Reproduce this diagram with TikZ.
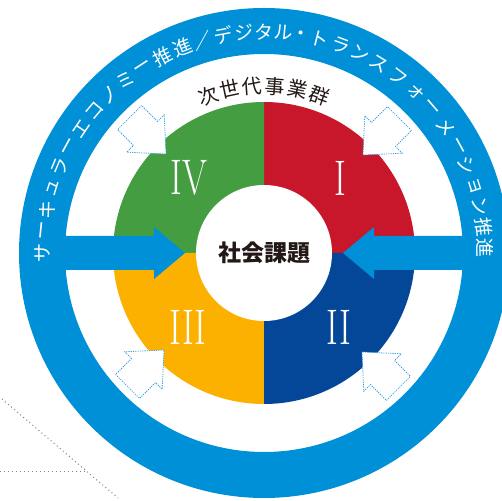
\documentclass[tikz,border=0pt]{standalone}
\usepackage{fontspec}
\usepackage{graphicx}
\newfontfamily\jp{Noto Sans CJK JP}
\usetikzlibrary{calc}
\definecolor{ringblue}{RGB}{0,144,215}
\definecolor{cRed}{RGB}{200,22,42}
\definecolor{cGreen}{RGB}{69,157,66}
\definecolor{cYellow}{RGB}{252,176,0}
\definecolor{cNavy}{RGB}{4,71,152}
\definecolor{dotblue}{RGB}{60,160,220}
\definecolor{decogray}{RGB}{120,132,150}
\definecolor{inkblack}{RGB}{35,24,21}
\tikzset{
  decoline/.style={decogray, line width=1pt, dash pattern=on 1pt off 3pt},
  harrow/.style={fill=white, draw=dotblue, line width=0.8pt, dash pattern=on 1.2pt off 1.1pt},
  hollowarrow/.pic={\draw[harrow] (0,0) -- (-29,26.5) -- (-29,17) -- (-51.5,17) -- (-51.5,-17) -- (-29,-17) -- (-29,-26.5) -- cycle;},
  ringtxt/.style={text=white, inner sep=-3pt, font=\jp\fontsize{19}{19}\selectfont},
  toptxt/.style={text=inkblack, inner sep=-2.5pt, font=\jp\fontsize{20}{20}\selectfont},
  numeral/.style={text=white, inner sep=0pt, font=\fontsize{50}{50}\selectfont},
}
\begin{document}
\begin{tikzpicture}[x=1pt,y=1pt]
\useasboundingbox (0,0) rectangle (502,500);
\clip (0,0) rectangle (502,500);
\fill[white] (0,0) rectangle (502,500);
\coordinate (C) at (264,247);
% decorative dotted lines
\coordinate (d1) at (2,101);
\coordinate (d2) at (118,2);
\coordinate (d3) at (0,29);
\coordinate (d4) at (85,29);
\draw[decoline] (d1) -- (d2);
\draw[decoline] (d3) -- (d4);
% outer ring
\draw[ringblue, line width=46pt] (C) circle[radius=222];
% quadrants
\fill[cRed] (C) -- ++(0,151) arc[start angle=90, end angle=0, radius=151] -- cycle;
\fill[cGreen] (C) -- ++(0,151) arc[start angle=90, end angle=180, radius=151] -- cycle;
\fill[cYellow] (C) -- ++(-151,0) arc[start angle=180, end angle=270, radius=151] -- cycle;
\fill[cNavy] (C) -- ++(0,-151) arc[start angle=270, end angle=360, radius=151] -- cycle;
% horizontal blue arrows
\fill[ringblue] (30,264) -- (154,264) -- (154,273) -- (185,247) -- (154,221) -- (154,230) -- (30,230) -- cycle;
\fill[ringblue] (502,264) -- (374,264) -- (374,273) -- (343,247) -- (374,221) -- (374,230) -- (502,230) -- cycle;
% centre
\node[circle, fill=white, minimum size=136pt, inner sep=0pt, text=inkblack,
      font=\jp\bfseries\fontsize{23}{23}\selectfont] (core) at (C) {社会課題};
% numerals
\node[numeral] (n1) at (340,322) {\scalebox{0.72}[1]{I}};
\node[numeral] (n4) at (189,322) {\scalebox{0.72}[1]{IV}};
\node[numeral] (n3) at (188,173) {\scalebox{0.72}[1]{III}};
\node[numeral] (n2) at (339,173) {\scalebox{0.72}[1]{II}};
% hollow dotted arrows
\pic[rotate=-45] at ($(C)+(-98,99)$) {hollowarrow};
\pic[rotate=-135] at ($(C)+(99,98)$) {hollowarrow};
\pic[rotate=45] at ($(C)+(-100,-97)$) {hollowarrow};
\pic[rotate=135] at ($(C)+(98,-99)$) {hollowarrow};
% top label
\foreach \a/\c [count=\i] in {109.6/次,101.8/世,94/代,86.2/事,78.4/業,70.6/群}
  \node[toptxt, rotate=\a-90] (t\i) at ($(C)+(\a:167)$) {\c};
% ring text
\foreach \a/\c [count=\i] in {180/サ,174.3/ー,168.6/キ,162.9/ュ,157.2/ラ,151.5/ー,145.8/エ,140.1/コ,134.4/ノ,128.7/ミ,123/ー,117.3/推,111.6/進,106.1/／,100.6/デ,95.2/ジ,90/タ,85/ル,80.5/・,75.5/ト,69.8/ラ,64.3/ン,58.7/ス,52.7/フ,46.7/ォ,40.9/ー,34.8/メ,28.8/ー,23.2/シ,17.6/ョ,12.2/ン,6.8/推,1.3/進}
  \node[ringtxt, rotate=\a-90] (r\i) at ($(C)+(\a:221)$) {\c};
\end{tikzpicture}
\end{document}
